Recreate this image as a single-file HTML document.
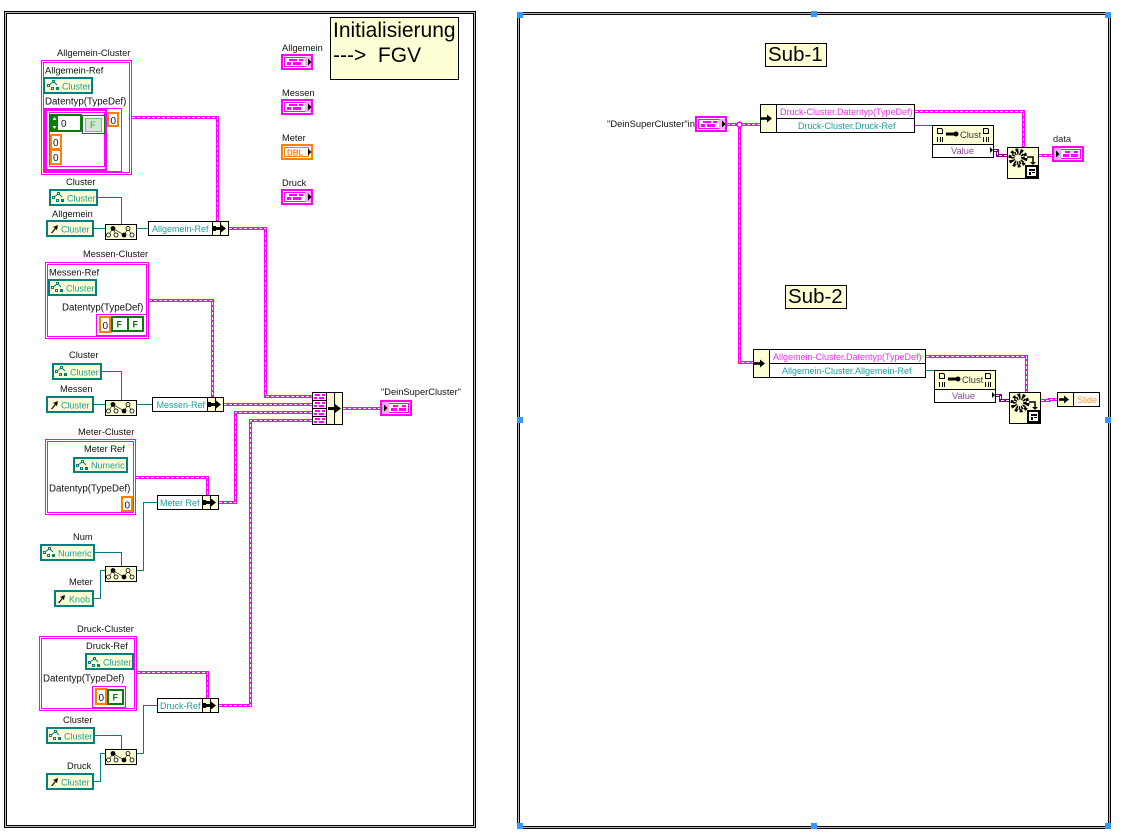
<!DOCTYPE html>
<html><head><meta charset="utf-8"><style>
html,body{margin:0;padding:0;background:#fff;width:1147px;height:839px;overflow:hidden}
svg{display:block}
text{font-family:"Liberation Sans",sans-serif;font-size:9.3px;fill:#111}
.t{font-size:9px;fill:#1f9c9c}
.p{font-size:9px;fill:#f030f0}
.o{font-size:9px;fill:#ff9a30}
.n{font-size:21px;fill:#000}
.s{font-size:20.5px;fill:#000}
.d{font-size:9.7px}
.z{font-size:10px;fill:#113}
.f{font-size:9px;font-weight:bold;fill:#0a7a0a}
</style></head><body>
<svg xmlns="http://www.w3.org/2000/svg" width="1147" height="839" viewBox="0 0 1147 839">
<defs>
<g id="pw" fill="none">
<path d="M132 117.5H217.5V222"/>
<path d="M229 228.5H265.5V396.5H312"/>
<path d="M149 300.5H212.5V398"/>
<path d="M224 404.5H312"/>
<path d="M136 477.5H207.5V496"/>
<path d="M219 502.5H235.5V412.5H312"/>
<path d="M137 672.5H207.5V699"/>
<path d="M219 705.5H250.5V420.5H312"/>
<path d="M343 408.5H380"/>
<path d="M727 124.5H760"/>
<path d="M739.5 124.5V362.5H754"/>
<path d="M915 111.5H1023.5V148"/>
<path d="M1039 155.5H1052"/>
<path d="M926 356.5H1026.5V393"/>
<path d="M1041 400.5H1049V399.5H1058"/>
</g>
<g id="vw" fill="none">
<path d="M994 150.5H997.5V155.5H1008"/>
<path d="M996 395.5H1000.5V400.5H1010"/>
</g>
<g id="ctl">
<rect width="32" height="16" fill="#f0f"/><rect x="2" y="2" width="28" height="12" fill="#fff"/>
<rect x="3.5" y="3.5" width="25" height="9" fill="#fff" stroke="#f0f"/>
<rect x="8" y="5" width="8" height="2" fill="#f0f"/><rect x="6" y="8" width="4" height="3" fill="#f0f"/><rect x="12" y="8" width="8" height="3" fill="#f0f"/><rect x="18" y="5" width="4" height="2" fill="#f0f"/>
<rect x="24" y="3" width="6" height="10" fill="#f8a8f8"/>
<path d="M27 4.5l3.5 3.5-3.500 3.500z" fill="#000"/>
</g>
<g id="ind">
<rect width="32" height="16" fill="#f0f"/><rect x="2" y="2" width="28" height="12" fill="#fff"/>
<rect x="3.5" y="3.5" width="25" height="9" fill="#fff" stroke="#f0f"/>
<rect x="2" y="2" width="7" height="12" fill="#f8a8f8"/>
<path d="M4 4.5l3.5 3.5-3.500 3.500z" fill="#000"/>
<rect x="11" y="8" width="6" height="3" fill="#f0f"/><rect x="13" y="5" width="5" height="2" fill="#f0f"/><rect x="19" y="8" width="7" height="3" fill="#f0f"/><rect x="22" y="5" width="4" height="2" fill="#f0f"/>
</g>
<g id="nd">
<rect x=".5" y=".5" width="31" height="15" fill="#ffffd6" stroke="#000"/>
<path d="M8 4.5L3.500 11M8 4.5L11 11M8 4.5L19 11M23 4.5L19 11M23 4.5L27 11" stroke="#000" stroke-width=".6" fill="none"/>
<g fill="#ffffd6" stroke="#000" stroke-width=".8"><circle cx="3.500" cy="11" r="2"/><circle cx="11" cy="11" r="2"/><circle cx="27" cy="11" r="2"/><circle cx="23" cy="4.500" r="2"/></g>
<circle cx="8" cy="4.500" r="2.400"/><circle cx="19" cy="11" r="2.400"/>
</g>
<g id="cl">
<g fill="none" stroke="#008080" stroke-width="1"><path d="M2 5L6 2M7 2L10 5"/></g>
<g fill="#fff" stroke="#008080"><rect x=".5" y="4.5" width="2" height="2"/><rect x="5.5" y=".5" width="2" height="2"/><rect x="4.5" y="7.5" width="2" height="2"/></g>
<rect x="9" y="7" width="3" height="3" fill="#008080"/>
</g>
<g id="cells">
<rect x=".5" y=".5" width="8" height="14" fill="#ffffd6" stroke="#000"/>
<rect x="8.5" y=".5" width="8" height="14" fill="#ffffd6" stroke="#000"/>
<path d="M3 7.5H10" stroke="#000" stroke-width="3"/><path d="M9 3.5L14 7.5 9 11.500z" fill="#000"/><rect x="1" y="5" width="3" height="5" fill="#000"/>
</g>
<g id="gear">
<rect x=".5" y=".5" width="31" height="31" fill="#ffffd6" stroke="#000"/>
<circle cx="11" cy="11" r="5" fill="none" stroke="#000" stroke-width="3.500" stroke-dasharray="1.500 1"/>
<circle cx="11" cy="11" r="8" fill="none" stroke="#000" stroke-width="3" stroke-dasharray="2.800 2.200"/>
<path d="M20 10H26V15" fill="none" stroke="#000" stroke-width="1.500"/><path d="M23 15H29L26 18z" fill="#000"/>
<rect x="19" y="19" width="11" height="11" fill="#fff" stroke="#000" stroke-width="2"/>
<rect x="22" y="22" width="6" height="2" fill="#000"/><rect x="22" y="25" width="2" height="3" fill="#000"/><rect x="25" y="25" width="3" height="1" fill="#000"/>
</g>
<g id="doc">
<rect x=".5" y=".5" width="61" height="32" fill="#fff" stroke="#000"/>
<rect x=".5" y=".5" width="61" height="19" fill="#ffffd6" stroke="#000"/>
<path d="M5.500 3.500H9.500L10.500 4.500V8.500H5.500zM51.500 3.500H55.500L56.500 4.500V8.500H51.500z" fill="none" stroke="#000"/>
<path d="M5.500 12V17M8.500 12V17M10.500 12V17M51.500 12V17M54.500 12V17M56.500 12V17" stroke="#000"/>
<path d="M14 9H22" stroke="#000" stroke-width="3"/><circle cx="24" cy="9" r="2.500"/>
<path d="M61 25l-3-3v6z" fill="#000"/>
</g>
<g id="cellb">
<rect x=".5" y=".5" width="14" height="8" fill="#fff" stroke="#000"/>
<rect x="3" y="2" width="5" height="2" fill="#f0f"/><rect x="2" y="5" width="3" height="2" fill="#f0f"/><rect x="7" y="5" width="5" height="2" fill="#f0f"/><rect x="10" y="2" width="3" height="2" fill="#f0f"/>
</g>
</defs>

<!-- frames -->
<g fill="#000">
<rect x="4" y="11" width="472" height="3"/><rect x="4" y="825" width="472" height="3"/><rect x="4" y="11" width="3" height="817"/><rect x="473" y="11" width="3" height="817"/>
<rect x="518" y="12" width="593" height="3"/><rect x="518" y="826" width="593" height="3"/><rect x="517" y="12" width="3" height="817"/><rect x="1108" y="12" width="3" height="817"/>
</g>
<g fill="#bbb">
<rect x="5" y="12" width="470" height="1"/><rect x="5" y="826" width="470" height="1"/><rect x="5" y="12" width="1" height="815"/><rect x="474" y="12" width="1" height="815"/>
<rect x="518" y="13" width="591" height="1"/><rect x="518" y="827" width="591" height="1"/><rect x="518" y="13" width="1" height="815"/><rect x="1109" y="13" width="1" height="815"/>
</g>
<g fill="#3399ff">
<rect x="517" y="12" width="6" height="6"/><rect x="811" y="11" width="6" height="6"/><rect x="1105" y="12" width="6" height="6"/>
<rect x="517" y="417" width="6" height="6"/><rect x="1105" y="417" width="6" height="6"/>
<rect x="517" y="823" width="6" height="6"/><rect x="811" y="823" width="6" height="6"/><rect x="1105" y="823" width="6" height="6"/>
</g>

<!-- teal wires -->
<g fill="none" stroke="#008080" stroke-width="1">
<path d="M97 197.5H121.5V224M93 228.5H105M137 228.5H148"/>
<path d="M101 371.5H121.5V400M93 404.5H105M137 404.5H152"/>
<path d="M137 570.5H143.5V502.5H157M94 552.5H121.5V566M93 598.5H100.5V570.5H105"/>
<path d="M137 753.5H143.5V705.5H157M94 735.5H121.5V749M93 781.5H100.5V753.5H105"/>
<path d="M915 125.5H932M926 370.5H934"/>
</g>
<!-- cluster wires -->
<use href="#pw" stroke="#ff00ff" stroke-width="3"/>
<use href="#pw" stroke="#ffffff" stroke-width="1" stroke-dasharray="3 2"/>
<use href="#vw" stroke="#800080" stroke-width="3"/>
<use href="#vw" stroke="#ffffff" stroke-width="1" stroke-dasharray="3 2"/>
<circle cx="739.5" cy="124.5" r="2.5" fill="#fff" stroke="#f0f" stroke-width="1.5"/>

<!-- note -->
<rect x="330.5" y="17.5" width="128" height="62" fill="#ffffd6" stroke="#000"/>
<text class="n" x="333" y="37">Initialisierung</text>
<text class="n" x="333" y="62" xml:space="preserve">---&gt;  FGV</text>
<rect x="765.5" y="43.5" width="61" height="23" fill="#ffffd6" stroke="#000"/>
<text class="s" x="768" y="61">Sub-1</text>
<rect x="785.5" y="285.5" width="61" height="23" fill="#ffffd6" stroke="#000"/>
<text class="s" x="788" y="303">Sub-2</text>

<!-- terminals top -->
<text x="282" y="51">Allgemein</text><use href="#ctl" x="281" y="54"/>
<text x="282" y="96">Messen</text><use href="#ctl" x="281" y="99"/>
<text x="282" y="141">Meter</text>
<rect x="281" y="144" width="32" height="16" fill="#ff8000"/>
<rect x="283" y="146" width="28" height="12" fill="#fff"/>
<rect x="284.5" y="147.5" width="24" height="9" fill="#fff" stroke="#ff8000"/>
<text x="287" y="155.5" style="font-size:8px;font-weight:bold;fill:#ff8000">DBL</text>
<path d="M308 148.5l3.5 3.5-3.5 3.5z" fill="#000"/>
<text x="282" y="186">Druck</text><use href="#ctl" x="281" y="189"/>

<!-- Allgemein -->
<text x="57" y="56">Allgemein-Cluster</text>
<rect x="41.5" y="60.5" width="90" height="114" fill="#fff" stroke="#f0f"/>
<rect x="43.5" y="62.5" width="86" height="110" fill="none" stroke="#f0f"/>
<text x="45" y="73.5">Allgemein-Ref</text>
<rect x="44" y="78" width="48" height="15" fill="#ffffd6" stroke="#008080" stroke-width="2"/>
<use href="#cl" x="47" y="80"/><text class="t" x="62" y="89.5">Cluster</text>
<text class="d" x="45" y="104.5">Datentyp(TypeDef)</text>
<rect x="44.5" y="108.5" width="77" height="63" fill="#fff" stroke="#f0f"/>
<rect x="46" y="110" width="60" height="60" fill="#fff" stroke="#f0f" stroke-width="2"/>
<rect x="49.5" y="112.5" width="55" height="54" fill="#fff" stroke="#f0f"/>
<rect x="50" y="115" width="31" height="16" fill="#fff" stroke="#0a7a0a" stroke-width="2"/>
<rect x="51" y="116" width="7" height="14" fill="#0a7a0a"/><path d="M54.5 117l2 3h-4zM54.5 129l2-3h-4z" fill="#fff"/>
<text class="z" x="61" y="127">0</text>
<rect x="82.5" y="115.5" width="22" height="18" fill="#fff" stroke="#0a7a0a"/>
<rect x="85.5" y="118.5" width="16" height="13" fill="#cfe8cf" stroke="#7fb87f"/>
<text class="f" x="90" y="128" style="fill:#6fb06f">F</text>
<rect x="108" y="113" width="10" height="13" fill="#fff" stroke="#ff8000" stroke-width="2"/><text class="z" x="110.5" y="124">0</text>
<rect x="51" y="135" width="10" height="14" fill="#fff" stroke="#ff8000" stroke-width="2"/><text class="z" x="53" y="146">0</text>
<rect x="51" y="150" width="10" height="14" fill="#fff" stroke="#ff8000" stroke-width="2"/><text class="z" x="53" y="161">0</text>

<text x="66" y="185">Cluster</text>
<rect x="50" y="190" width="47" height="15" fill="#ffffd6" stroke="#008080" stroke-width="2"/>
<use href="#cl" x="52" y="192"/><text class="t" x="67" y="201.5">Cluster</text>
<text x="52" y="217">Allgemein</text>
<rect x="47" y="221" width="46" height="15" fill="#ffffd6" stroke="#008080" stroke-width="2"/>
<path d="M51 233l4-5-2-1 5-2-1 5-1.5-1-3 4z" fill="#000"/><text class="t" x="61" y="232.5">Cluster</text>
<use href="#nd" x="105" y="224"/>
<rect x="148.5" y="221.5" width="64" height="14" fill="#fff" stroke="#000"/><text class="t" x="152" y="232">Allgemein-Ref</text>
<use href="#cells" x="212" y="221"/>

<!-- Messen -->
<text x="83" y="257">Messen-Cluster</text>
<rect x="45.5" y="262.5" width="103" height="76" fill="#fff" stroke="#f0f"/>
<rect x="47.5" y="264.5" width="99" height="72" fill="none" stroke="#f0f"/>
<text x="49" y="275.5">Messen-Ref</text>
<rect x="49" y="280" width="47" height="15" fill="#ffffd6" stroke="#008080" stroke-width="2"/>
<use href="#cl" x="51" y="282"/><text class="t" x="66" y="291.5">Cluster</text>
<text class="d" x="62" y="310.5">Datentyp(TypeDef)</text>
<rect x="96.5" y="314.5" width="50" height="21" fill="#fff" stroke="#f0f"/>
<rect x="100" y="317" width="10" height="15" fill="#fff" stroke="#ff8000" stroke-width="2"/><text class="z" x="102.5" y="329">0</text>
<rect x="112" y="317" width="31" height="14" fill="#fff" stroke="#0a7a0a" stroke-width="2"/><rect x="127" y="317" width="2" height="14" fill="#0a7a0a"/>
<text class="f" x="116.5" y="327.5">F</text><text class="f" x="132.5" y="327.5">F</text>

<text x="69" y="358">Cluster</text>
<rect x="53" y="364" width="48" height="15" fill="#ffffd6" stroke="#008080" stroke-width="2"/>
<use href="#cl" x="55" y="366"/><text class="t" x="70" y="375.5">Cluster</text>
<text x="60" y="392">Messen</text>
<rect x="47" y="397" width="46" height="15" fill="#ffffd6" stroke="#008080" stroke-width="2"/>
<path d="M51 409l4-5-2-1 5-2-1 5-1.5-1-3 4z" fill="#000"/><text class="t" x="61" y="408.5">Cluster</text>
<use href="#nd" x="105" y="400"/>
<rect x="152.5" y="397.5" width="55" height="14" fill="#fff" stroke="#000"/><text class="t" x="156.5" y="408">Messen-Ref</text>
<use href="#cells" x="207" y="397"/>

<!-- Build -->
<use href="#cellb" x="312" y="392"/><use href="#cellb" x="312" y="400"/><use href="#cellb" x="312" y="408"/><use href="#cellb" x="312" y="416"/>
<rect x="326.5" y="392.5" width="8" height="32" fill="#ffffd6" stroke="#000"/>
<rect x="334.5" y="392.5" width="8" height="32" fill="#ffffd6" stroke="#000"/>
<path d="M328 408.5H336" stroke="#000" stroke-width="3"/><path d="M335 404L341 408.5 335 413z" fill="#000"/>
<use href="#ind" x="380" y="400"/>
<text x="381" y="395">"DeinSuperCluster"</text>

<!-- Meter -->
<text x="78" y="435">Meter-Cluster</text>
<rect x="45.5" y="439.5" width="90" height="75" fill="#fff" stroke="#f0f"/>
<rect x="47.5" y="441.5" width="86" height="71" fill="none" stroke="#f0f"/>
<text x="84" y="452">Meter Ref</text>
<rect x="74" y="458" width="53" height="14" fill="#ffffd6" stroke="#008080" stroke-width="2"/>
<use href="#cl" x="76" y="460"/><text class="t" x="91" y="468.5">Numeric</text>
<text class="d" x="49" y="491.5">Datentyp(TypeDef)</text>
<rect x="122" y="497" width="10" height="14" fill="#fff" stroke="#ff8000" stroke-width="2"/><text class="z" x="124.5" y="508.5">0</text>
<rect x="157.5" y="495.5" width="46" height="14" fill="#fff" stroke="#000"/><text class="t" x="160" y="506">Meter Ref</text>
<use href="#cells" x="202" y="495"/>
<text x="73" y="540">Num</text>
<rect x="41" y="545" width="53" height="15" fill="#ffffd6" stroke="#008080" stroke-width="2"/>
<use href="#cl" x="43" y="547"/><text class="t" x="58" y="556.5">Numeric</text>
<text x="69" y="585">Meter</text>
<rect x="55" y="591" width="38" height="15" fill="#ffffd6" stroke="#008080" stroke-width="2"/>
<path d="M58 603l4-5-2-1 5-2-1 5-1.5-1-3 4z" fill="#000"/><text class="t" x="69" y="602.5">Knob</text>
<use href="#nd" x="105" y="566"/>

<!-- Druck -->
<text x="77" y="632">Druck-Cluster</text>
<rect x="39.5" y="636.5" width="97" height="74" fill="#fff" stroke="#f0f"/>
<rect x="41.5" y="638.5" width="93" height="70" fill="none" stroke="#f0f"/>
<text x="86" y="649">Druck-Ref</text>
<rect x="86" y="654" width="47" height="15" fill="#ffffd6" stroke="#008080" stroke-width="2"/>
<use href="#cl" x="88" y="657"/><text class="t" x="103" y="665.5">Cluster</text>
<text class="d" x="43" y="681.5">Datentyp(TypeDef)</text>
<rect x="92.5" y="686.5" width="33" height="21" fill="#fff" stroke="#f0f"/>
<rect x="96" y="689" width="10" height="15" fill="#fff" stroke="#ff8000" stroke-width="2"/><text class="z" x="98.5" y="701">0</text>
<rect x="108" y="690" width="15" height="14" fill="#fff" stroke="#0a7a0a" stroke-width="2"/><text class="f" x="112.5" y="700.5">F</text>
<rect x="157.5" y="698.5" width="46" height="14" fill="#fff" stroke="#000"/><text class="t" x="160" y="709">Druck-Ref</text>
<use href="#cells" x="202" y="698"/>
<text x="63" y="723">Cluster</text>
<rect x="47" y="728" width="47" height="15" fill="#ffffd6" stroke="#008080" stroke-width="2"/>
<use href="#cl" x="49" y="730"/><text class="t" x="64" y="739.5">Cluster</text>
<text x="67" y="769">Druck</text>
<rect x="47" y="774" width="46" height="15" fill="#ffffd6" stroke="#008080" stroke-width="2"/>
<path d="M51 786l4-5-2-1 5-2-1 5-1.5-1-3 4z" fill="#000"/><text class="t" x="61" y="785.5">Cluster</text>
<use href="#nd" x="105" y="749"/>

<!-- Sub-1 -->
<text x="607" y="127" style="font-size:9.4px">"DeinSuperCluster"in</text>
<use href="#ctl" x="695" y="116"/>
<rect x="760.5" y="104.5" width="16" height="28" fill="#ffffd6" stroke="#000"/>
<path d="M761 118.5H768" stroke="#000" stroke-width="2.6"/><path d="M767 114.5L772 118.5 767 122.5z" fill="#000"/>
<rect x="776.5" y="104.5" width="138" height="14" fill="#fff" stroke="#000"/><rect x="776.5" y="118.5" width="138" height="14" fill="#fff" stroke="#000"/>
<text class="p" x="780" y="115">Druck-Cluster.Datentyp(TypeDef)</text>
<text class="t" x="798" y="129">Druck-Cluster.Druck-Ref</text>
<use href="#doc" x="932" y="125"/>
<text x="960" y="138" style="fill:#333">Clust</text>
<text x="951" y="154" style="fill:#8a4a9a">Value</text>
<use href="#gear" x="1007" y="147"/>
<use href="#ind" x="1052" y="146"/>
<text x="1053" y="142" style="fill:#222">data</text>

<!-- Sub-2 -->
<rect x="753.5" y="349.5" width="16" height="28" fill="#ffffd6" stroke="#000"/>
<path d="M754 363.5H761" stroke="#000" stroke-width="2.6"/><path d="M760 359.5L765 363.5 760 367.5z" fill="#000"/>
<rect x="769.5" y="349.5" width="156" height="14" fill="#fff" stroke="#000"/><rect x="769.5" y="363.5" width="156" height="14" fill="#fff" stroke="#000"/>
<text class="p" x="773" y="360">Allgemein-Cluster.Datentyp(TypeDef)</text>
<text class="t" x="782" y="374">Allgemein-Cluster.Allgemein-Ref</text>
<use href="#doc" x="934" y="370"/>
<text x="962" y="383" style="fill:#333">Clust</text>
<text x="952" y="399" style="fill:#8a4a9a">Value</text>
<use href="#gear" x="1009" y="392"/>
<rect x="1057.5" y="392.5" width="16" height="14" fill="#ffffd6" stroke="#000"/>
<path d="M1059 399.5H1065" stroke="#000" stroke-width="2.6"/><path d="M1064 395.5L1069 399.5 1064 403.5z" fill="#000"/>
<rect x="1073.5" y="392.5" width="26" height="14" fill="#fff" stroke="#000"/>
<text class="o" x="1077" y="403">Slide</text>
</svg>
</body></html>
